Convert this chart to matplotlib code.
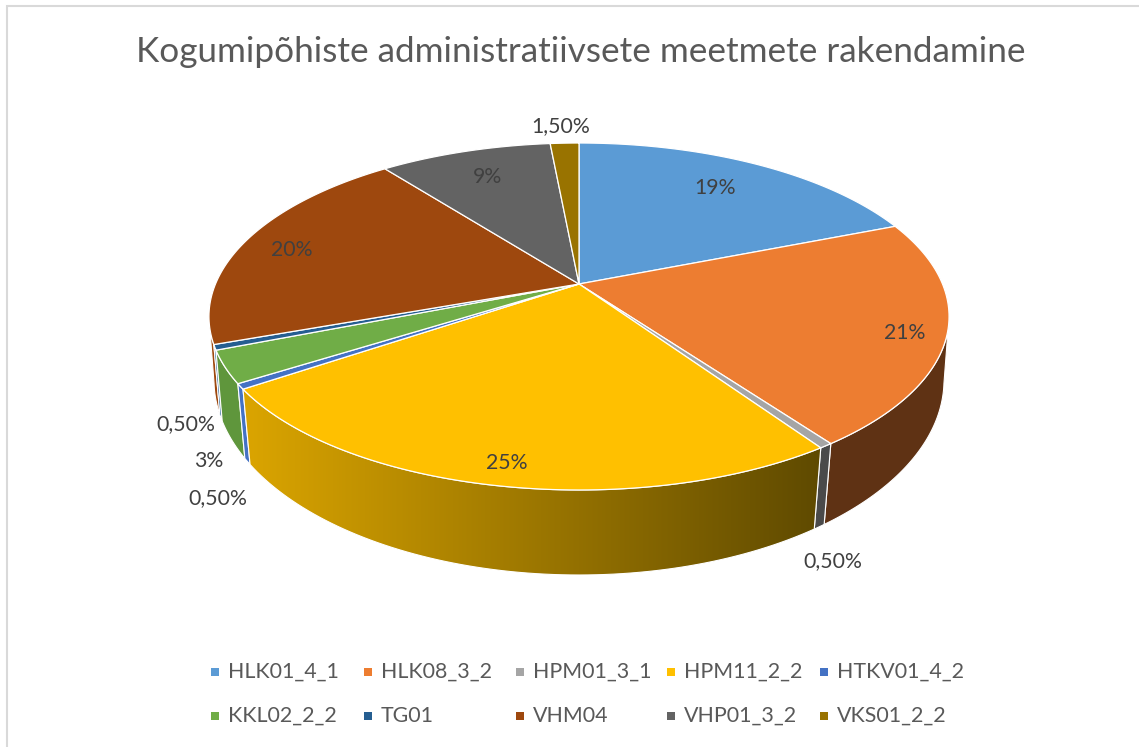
import numpy as np
import matplotlib
matplotlib.use('Agg')
from matplotlib import pyplot as plt
from matplotlib.patches import Polygon, Rectangle
from matplotlib.colors import LinearSegmentedColormap

plt.rcParams['font.family'] = ['Lato', 'DejaVu Sans']

title = 'Kogumipõhiste administratiivsete meetmete rakendamine'
names = ['HLK01_4_1', 'HLK08_3_2', 'HPM01_3_1', 'HPM11_2_2', 'HTKV01_4_2',
         'KKL02_2_2', 'TG01', 'VHM04', 'VHP01_3_2', 'VKS01_2_2']
values = [19, 21, 0.5, 25, 0.5, 3, 0.5, 20, 9, 1.5]
labels = ['19%', '21%', '0,50%', '25%', '0,50%', '3%', '0,50%', '20%', '9%', '1,50%']
colors = ['#5b9bd5', '#ed7d31', '#a5a5a5', '#ffc000', '#4472c4',
          '#70ad47', '#255e91', '#9e480e', '#636363', '#997300']
side_left = {1: '#5f3214', 2: '#4a4a4a', 3: '#dba500', 4: '#4472c4', 5: '#5f963c', 6: '#255e91', 7: '#9e480e'}
side_right = {1: '#5f3214', 2: '#4a4a4a', 3: '#5f4a00', 4: '#4472c4', 5: '#5f963c', 6: '#255e91', 7: '#9e480e'}
label_xy = [(715, 188), (905, 333), (833, 561), (507, 463), (218, 498),
            (209, 461), (186, 424), (292, 250), (488, 177), (561, 126)]

# pixel coordinates of the pie, top face and bottom face (perspective)
cx = 579
top = dict(cy=284, R=363.5, S=167.4, k=0.1873)
bot = dict(cy=346.8, R=359.7, S=189.4, k=0.17)


def project(theta, face):
    w = 1 + face['k'] * np.cos(theta)
    return cx + face['R'] * np.sin(theta) / w, face['cy'] - face['S'] * np.cos(theta) / w


def arc(a, b, face, n=80):
    t = np.linspace(a, b, n)
    return np.column_stack(project(t, face))


fig = plt.figure(figsize=(11.39, 7.47), dpi=100)
ax = fig.add_axes([0, 0, 1, 1])
ax.set_xlim(0, 1139)
ax.set_ylim(747, 0)
ax.axis('off')

# chart frame, only the top and left edges are in the crop
ax.plot([6.5, 6.5, 1139], [747, 5.5, 5.5], color='#d9d9d9', lw=1.5, solid_joinstyle='miter')

edges = np.cumsum([0] + values) / 100 * 2 * np.pi
silhouette = np.arccos(-top['k'])

# side walls, back to front
order = [7, 6, 5, 1, 2, 4, 3]
for z, i in enumerate(order):
    a, b = edges[i], edges[i + 1]
    if i == 1:
        a = silhouette
    if i == 7:
        b = 2 * np.pi - silhouette
    poly = np.vstack([arc(a, b, top), arc(b, a, bot)])
    if side_left[i] == side_right[i]:
        ax.add_patch(Polygon(poly, fc=side_left[i], ec='white', lw=0.8, zorder=2 + z * 0.01))
    else:
        cmap = LinearSegmentedColormap.from_list('side', [side_left[i], side_right[i]])
        x0, x1 = poly[:, 0].min(), poly[:, 0].max()
        y0, y1 = poly[:, 1].min(), poly[:, 1].max()
        im = ax.imshow(np.linspace(0, 1, 256)[None, :], cmap=cmap, extent=(x0, x1, y1, y0),
                       aspect='auto', zorder=2 + z * 0.01)
        patch = Polygon(poly, fc='none', ec='white', lw=0.8, zorder=2 + z * 0.01 + 0.001)
        ax.add_patch(patch)
        im.set_clip_path(patch)
ax.set_xlim(0, 1139)
ax.set_ylim(747, 0)

# top face
for i in range(len(values)):
    pts = np.vstack([[[cx, top['cy']]], arc(edges[i], edges[i + 1], top)])
    ax.add_patch(Polygon(pts, fc=colors[i], ec='white', lw=0.9, zorder=3, joinstyle='round'))

for lab, (x, y) in zip(labels, label_xy):
    ax.text(x, y, lab, color='#404040', fontsize=15.3, ha='center', va='center', zorder=4)

ax.text(581, 52, title, color='#595959', fontsize=25.3, ha='center', va='center')

# legend
col_x = [215, 368, 520, 671, 824]
row_y = [672, 716]
for i, name in enumerate(names):
    x = col_x[i % 5]
    y = row_y[i // 5]
    ax.add_patch(Rectangle((x - 4, y - 4), 8, 8, fc=colors[i], ec='none'))
    ax.text(x + 13, y, name, color='#595959', fontsize=15.4, ha='left', va='center')

plt.savefig('out.png', dpi=100)
plt.close()
